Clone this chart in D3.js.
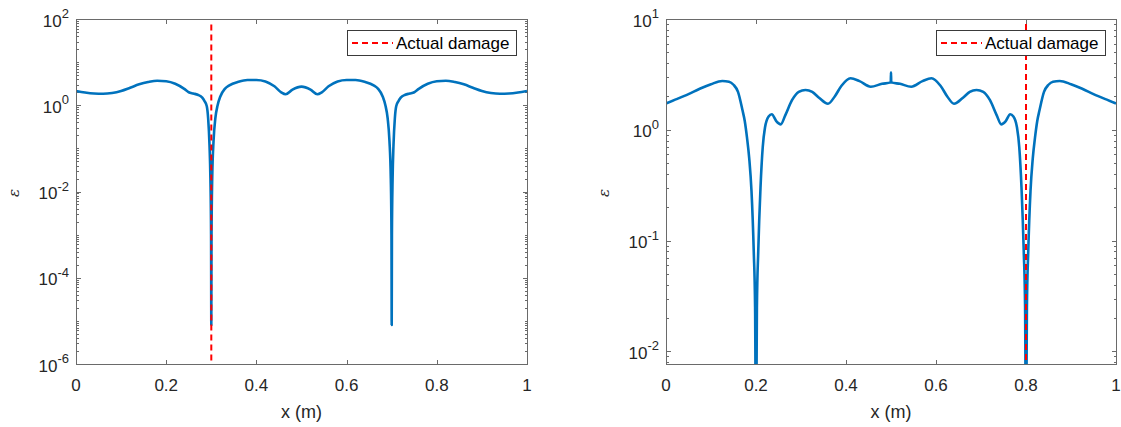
<!DOCTYPE html>
<html><head><meta charset="utf-8">
<script src="https://cdn.jsdelivr.net/npm/d3@7"></script>
<style>body{margin:0;background:#fff}svg{display:block}</style>
</head><body>
<svg id="chart" width="1121" height="427"></svg>
<script>
// ---- data ----
const xLeft = [0,0.02,0.04,0.06,0.08,0.10,0.12,0.14,0.16,0.18,0.20,0.22,0.24,0.25,0.26,0.27,0.28,0.285,0.29,0.293,0.296,0.298,0.2995,0.3,0.3005,0.302,0.305,0.309,0.314,0.32,0.33,0.34,0.36,0.38,0.40,0.42,0.44,0.455,0.465,0.48,0.5,
  0.52,0.535,0.545,0.56,0.58,0.60,0.62,0.64,0.66,0.67,0.68,0.686,0.691,0.695,0.698,0.6995,0.7,0.7005,0.702,0.704,0.707,0.71,0.715,0.72,0.73,0.74,0.75,0.76,0.78,0.80,0.82,0.84,0.86,0.88,0.90,0.92,0.94,0.96,0.98,1];
const yLeft = [2.15,1.97,1.87,1.85,1.93,2.15,2.55,3.05,3.45,3.7,3.6,3.15,2.4,2.0,1.87,1.75,1.5,1.25,0.95,0.5,0.12,0.02,0.001,8e-6,0.001,0.02,0.15,0.5,1.0,1.6,2.4,2.9,3.5,3.85,3.85,3.55,2.75,2.0,1.8,2.3,2.7,
  2.3,1.8,2.0,2.75,3.55,3.85,3.85,3.5,2.9,2.4,1.6,1.0,0.5,0.15,0.02,0.001,8e-6,0.001,0.02,0.12,0.5,0.95,1.25,1.5,1.75,1.87,2.0,2.4,3.15,3.6,3.7,3.45,3.05,2.55,2.15,1.93,1.85,1.87,1.97,2.15];

const xRight = [0,0.025,0.05,0.075,0.10,0.125,0.14,0.15,0.16,0.17,0.175,0.18,0.185,0.19,0.195,0.198,0.2,0.202,0.205,0.21,0.215,0.22,0.228,0.235,0.245,0.255,0.265,0.28,0.295,0.31,0.325,0.34,0.36,0.375,0.39,0.41,0.43,0.455,0.48,0.4995,0.5,
  0.5005,0.52,0.545,0.57,0.59,0.61,0.625,0.64,0.66,0.675,0.69,0.705,0.72,0.735,0.745,0.755,0.765,0.772,0.78,0.785,0.79,0.795,0.798,0.8,0.802,0.805,0.81,0.815,0.82,0.825,0.83,0.84,0.85,0.86,0.875,0.90,0.925,0.95,0.975,1];
const yRight = [1.73,1.9,2.1,2.35,2.58,2.76,2.72,2.55,2.2,1.5,1.2,0.85,0.55,0.28,0.08,0.025,0.001,0.025,0.08,0.3,0.7,1.05,1.32,1.38,1.2,1.12,1.35,1.85,2.2,2.29,2.2,1.95,1.72,2.0,2.5,2.92,2.75,2.45,2.6,2.68,3.3,
  2.68,2.6,2.45,2.75,2.92,2.5,2.0,1.72,1.95,2.2,2.29,2.2,1.85,1.35,1.12,1.2,1.38,1.32,1.05,0.7,0.3,0.08,0.025,0.001,0.025,0.08,0.28,0.55,0.85,1.2,1.5,2.2,2.55,2.72,2.76,2.58,2.35,2.1,1.9,1.73];

const damageLeft = 0.3, damageRight = 0.8;
const damageSpanLeft = [1e-6, 75];
const damageSpanRight = [0.0077, 9];
const yDomainLeft = [1e-6, 1e2];
const yDomainRight = [0.0077, 10];
const xTicks = [0, 0.2, 0.4, 0.6, 0.8, 1];
const yTickExpLeft = [2, 0, -2, -4, -6];
const yTickExpRight = [1, 0, -1, -2];
const legendLabel = "Actual damage";
const xLabel = "x (m)";
const yLabel = "\u03B5";

// ---- drawing ----
const svg = d3.select("#chart");
const FONT = "'Liberation Sans', Arial, Helvetica, sans-serif";
const TXT = "#262626";
const AX = "#6a6a6a";

const panels = [
  {key:"L", xs:xLeft, ys:yLeft, dmg:damageLeft, dspan:damageSpanLeft, ydom:yDomainLeft, exps:yTickExpLeft, l:76, r:527, t:19, b:364},
  {key:"R", xs:xRight, ys:yRight, dmg:damageRight, dspan:damageSpanRight, ydom:yDomainRight, exps:yTickExpRight, l:666, r:1116, t:19, b:364}
];

panels.forEach(p => {
  const x = d3.scaleLinear().domain([0, 1]).range([p.l, p.r]);
  const y = d3.scaleLog().domain(p.ydom).range([p.b, p.t]);
  const g = svg.append("g");

  const clipId = "clip" + p.key;
  svg.append("clipPath").attr("id", clipId).append("rect")
    .attr("x", p.l).attr("y", p.t).attr("width", p.r - p.l).attr("height", p.b - p.t);

  // ticks (inside, on all four sides)
  const majLen = 4.5, minLen = 2.5;
  const tg = g.append("g").attr("stroke", AX).attr("stroke-width", 1).attr("shape-rendering", "crispEdges");
  xTicks.forEach(v => {
    const px = Math.round(x(v)) + 0.5;
    tg.append("line").attr("x1", px).attr("x2", px).attr("y1", p.b).attr("y2", p.b - majLen);
    tg.append("line").attr("x1", px).attr("x2", px).attr("y1", p.t).attr("y2", p.t + majLen);
  });
  const e0 = Math.floor(Math.log10(p.ydom[0])), e1 = Math.ceil(Math.log10(p.ydom[1]));
  for (let e = e0; e <= e1; e++) {
    for (let m = 1; m <= 9; m++) {
      const v = m * Math.pow(10, e);
      if (v < p.ydom[0] * 0.999 || v > p.ydom[1] * 1.001) continue;
      const major = (m === 1 && p.exps.includes(e));
      const len = major ? majLen : minLen;
      const py = Math.round(y(v)) + 0.5;
      tg.append("line").attr("x1", p.l).attr("x2", p.l + len).attr("y1", py).attr("y2", py);
      tg.append("line").attr("x1", p.r).attr("x2", p.r - len).attr("y1", py).attr("y2", py);
    }
  }

  // data line
  const line = d3.line().x((d, i) => x(p.xs[i])).y(d => y(d)).curve(d3.curveMonotoneX);
  g.append("path").datum(p.ys)
    .attr("clip-path", `url(#${clipId})`)
    .attr("d", line)
    .attr("fill", "none").attr("stroke", "#0072BD").attr("stroke-width", 2.6)
    .attr("stroke-linejoin", "round");

  // damage line
  g.append("line")
    .attr("clip-path", `url(#${clipId})`)
    .attr("x1", x(p.dmg)).attr("x2", x(p.dmg))
    .attr("y1", y(p.dspan[1])).attr("y2", y(p.dspan[0]))
    .attr("stroke", "#FF0000").attr("stroke-width", 2).attr("stroke-dasharray", "6,4");

  // axes box
  g.append("rect").attr("x", p.l + 0.5).attr("y", p.t + 0.5)
    .attr("width", p.r - p.l).attr("height", p.b - p.t)
    .attr("fill", "none").attr("stroke", AX).attr("stroke-width", 1).attr("shape-rendering", "crispEdges");

  // x tick labels
  xTicks.forEach(v => {
    g.append("text").attr("x", x(v)).attr("y", p.b + 27)
      .attr("text-anchor", "middle").attr("font-family", FONT).attr("font-size", 17).attr("fill", TXT)
      .text(String(v));
  });
  // y tick labels
  p.exps.forEach(e => {
    const t = g.append("text").attr("x", p.l - 7).attr("y", y(Math.pow(10, e)) + 7.5)
      .attr("text-anchor", "end").attr("font-family", FONT).attr("font-size", 17).attr("fill", TXT);
    t.append("tspan").text("10");
    t.append("tspan").attr("dy", -8.5).attr("font-size", 13).text(String(e));
  });

  // axis labels
  g.append("text").attr("x", (p.l + p.r) / 2).attr("y", p.b + 54)
    .attr("text-anchor", "middle").attr("font-family", FONT).attr("font-size", 18).attr("fill", TXT)
    .text(xLabel);
  const ylx = p.l - 57, yly = 193;
  g.append("text").attr("transform", `translate(${ylx},${yly}) rotate(-90)`)
    .attr("text-anchor", "middle").attr("font-family", "'DejaVu Serif', serif").attr("font-style", "italic")
    .attr("font-size", 15).attr("fill", TXT)
    .text(yLabel);

  // legend
  const lw = 169, lh = 25;
  const lx = p.r - 11 - lw, ly = 30;
  const lg = g.append("g");
  lg.append("rect").attr("x", lx + 0.5).attr("y", ly + 0.5).attr("width", lw).attr("height", lh)
    .attr("fill", "#fff").attr("stroke", "#3a3a3a").attr("stroke-width", 1).attr("shape-rendering", "crispEdges");
  lg.append("line").attr("x1", lx + 5).attr("x2", lx + 46).attr("y1", ly + lh / 2 + 0.5).attr("y2", ly + lh / 2 + 0.5)
    .attr("stroke", "#FF0000").attr("stroke-width", 2).attr("stroke-dasharray", "6,4");
  lg.append("text").attr("x", lx + 49).attr("y", ly + lh / 2 + 6.5)
    .attr("font-family", FONT).attr("font-size", 17).attr("fill", "#000")
    .text(legendLabel);
});
</script>
</body></html>
